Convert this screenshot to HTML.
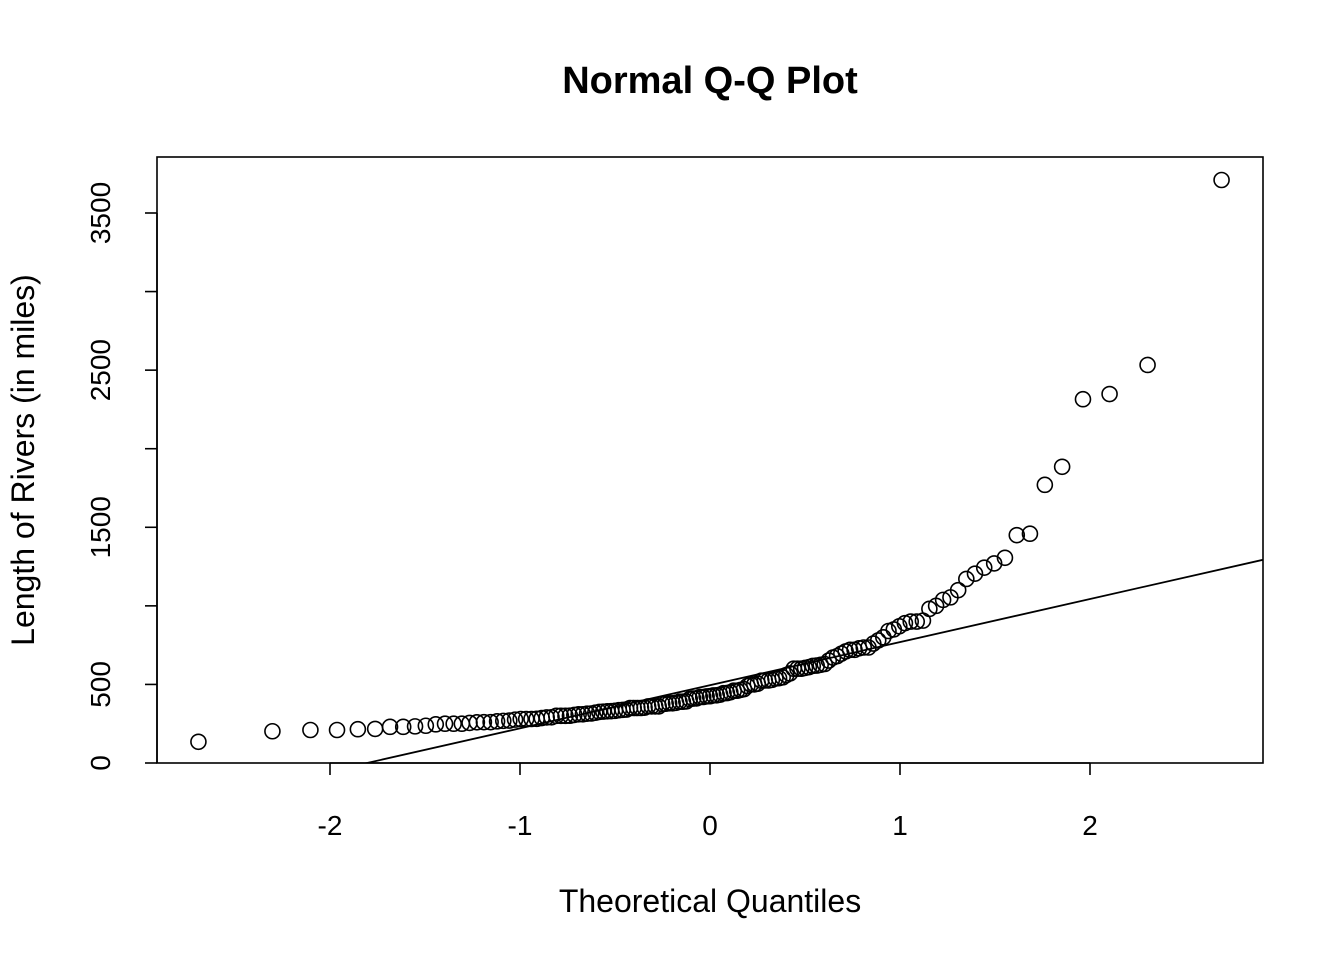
<!DOCTYPE html>
<html><head><meta charset="utf-8"><style>
html,body{margin:0;padding:0;background:#fff;}
svg text{font-family:"Liberation Sans",Arial,sans-serif;fill:#000;}
</style></head><body>
<svg id="chart" width="1344" height="960" viewBox="0 0 1344 960" xmlns="http://www.w3.org/2000/svg">
<text x="710" y="93" text-anchor="middle" font-size="38" font-weight="bold">Normal Q-Q Plot</text>
<text x="710" y="912" text-anchor="middle" font-size="32">Theoretical Quantiles</text>
<text x="0" y="0" transform="translate(34,460) rotate(-90)" text-anchor="middle" font-size="32">Length of Rivers (in miles)</text>
<rect x="157" y="157" width="1106" height="606" fill="none" stroke="#000" stroke-width="1.6"/>
<g id="axes"></g>
<g id="marks"></g>
</svg>
<script>
const riverLengths = [735,320,325,392,524,450,1459,135,465,600,330,336,280,315,870,906,202,329,290,1000,600,505,1450,840,1243,890,350,407,286,280,525,720,390,250,327,230,265,850,210,630,260,230,360,730,600,306,390,420,291,710,340,217,281,352,259,250,470,680,570,350,300,560,900,625,332,2348,1171,3710,2315,2533,780,280,410,460,260,255,431,350,760,618,338,981,1306,500,696,605,250,411,1054,735,233,435,490,310,460,383,375,1270,545,445,1885,380,300,380,377,425,276,210,800,420,350,360,538,1100,1205,314,237,610,360,540,1038,424,310,300,444,301,268,620,215,652,900,525,246,360,529,500,720,270,430,671,1770];
const xTicks = [-2,-1,0,1,2];
const yTicks = [0,500,1000,1500,2000,2500,3000,3500];
const yTickLabels = ["0","500","","1500","","2500","","3500"];

const L=157,R=1263,T=157,B=763;
function sx(v){return 710+v*190;}
function sy(v){return 763-v*(550/3500);}
function qnorm(p){
  const a=[-39.69683028665376,220.9460984245205,-275.9285104469687,138.3577518672690,-30.66479806614716,2.506628277459239];
  const b=[-54.47609879822406,161.5858368580409,-155.6989798598866,66.80131188771972,-13.28068155288572];
  const c=[-0.007784894002430293,-0.3223964580411365,-2.400758277161838,-2.549732539343734,4.374664141464968,2.938163982698783];
  const d=[0.007784695709041462,0.3224671290700398,2.445134137142996,3.754408661907416];
  let q,r;
  if(p<0.02425){q=Math.sqrt(-2*Math.log(p));return (((((c[0]*q+c[1])*q+c[2])*q+c[3])*q+c[4])*q+c[5])/((((d[0]*q+d[1])*q+d[2])*q+d[3])*q+1);}
  if(p>1-0.02425){q=Math.sqrt(-2*Math.log(1-p));return -(((((c[0]*q+c[1])*q+c[2])*q+c[3])*q+c[4])*q+c[5])/((((d[0]*q+d[1])*q+d[2])*q+d[3])*q+1);}
  q=p-0.5;r=q*q;return (((((a[0]*r+a[1])*r+a[2])*r+a[3])*r+a[4])*r+a[5])*q/(((((b[0]*r+b[1])*r+b[2])*r+b[3])*r+b[4])*r+1);
}
function quant(s,p){const h=(s.length-1)*p,lo=Math.floor(h);return s[lo]+(h-lo)*((s[lo+1]??s[lo])-s[lo]);}
const NS="http://www.w3.org/2000/svg";
const axes=document.getElementById('axes'),marks=document.getElementById('marks');
function mk(tag,attrs,parent){const e=document.createElementNS(NS,tag);for(const k in attrs)e.setAttribute(k,attrs[k]);parent.appendChild(e);return e;}

xTicks.forEach(v=>{
  const t=mk('line',{x1:sx(v),x2:sx(v),y1:B,y2:B+12,stroke:'#000','stroke-width':1.6},axes);
  
  
  const l=mk('text',{x:sx(v),y:B+72,'text-anchor':'middle','font-size':28},axes);
  
  
  l.textContent=String(v);
});
mk('line',{x1:sx(-2),x2:sx(2),y1:B,y2:B,stroke:'#000','stroke-width':1.6},axes);
yTicks.forEach((v,i)=>{
  const t=mk('line',{x1:L-12,x2:L,y1:sy(v),y2:sy(v),stroke:'#000','stroke-width':1.6},axes);
  
  
  if(yTickLabels[i]){
    const l=mk('text',{x:0,y:0,transform:`translate(${L-47},${sy(v)}) rotate(-90)`,'text-anchor':'middle','font-size':28},axes);
    
    
    l.textContent=yTickLabels[i];
  }
});
mk('line',{x1:L,x2:L,y1:sy(0),y2:sy(3500),stroke:'#000','stroke-width':1.6},axes);

const sorted=riverLengths.slice().sort((a,b)=>a-b);
const n=sorted.length;
const q1=quant(sorted,0.25),q3=quant(sorted,0.75);
const z1=qnorm(0.25),z3=qnorm(0.75);
const slope=(q3-q1)/(z3-z1),icpt=q1-slope*z1;
const clip=mk('clipPath',{id:'pc'},marks);mk('rect',{x:L,y:T,width:R-L,height:B-T},clip);
const xl=(L-710)/190,xr=(R-710)/190;
const ln=mk('line',{x1:sx(xl),y1:sy(icpt+slope*xl),x2:sx(xr),y2:sy(icpt+slope*xr),stroke:'#000','stroke-width':1.8,'clip-path':'url(#pc)'},marks);


sorted.forEach((v,i)=>{
  const z=qnorm((i+1-0.5)/n);
  const c=mk('circle',{cx:sx(z),cy:sy(v),r:7.5,fill:'none',stroke:'#000','stroke-width':1.6},marks);
  
  
});
</script>
</body></html>
